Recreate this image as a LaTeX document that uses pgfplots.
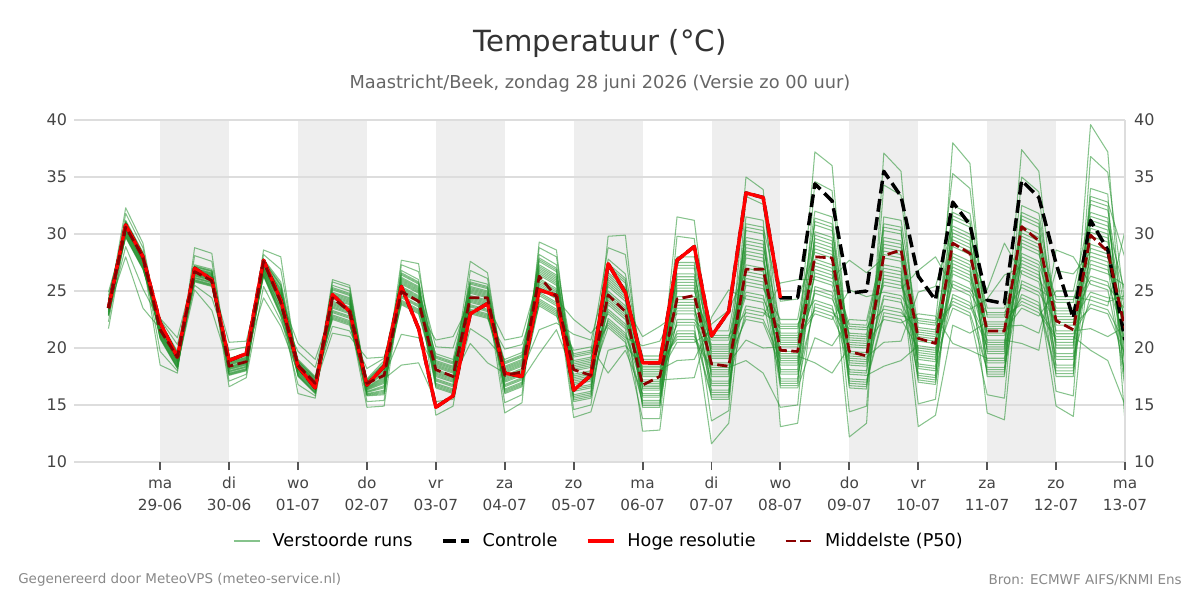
\documentclass[border=0pt]{standalone}
\usepackage{fontspec}
\setmainfont{DejaVu Sans}
\usepackage{pgfplots}
\usepackage{pgfplotstable}
\pgfplotsset{compat=1.18}
\definecolor{ensgreen}{RGB}{34,145,45}
\definecolor{gridgray}{HTML}{DDDDDD}
\definecolor{shade}{HTML}{EEEEEE}
\definecolor{ticklab}{HTML}{444444}
\definecolor{tickc}{HTML}{555555}
\definecolor{titlec}{HTML}{333333}
\definecolor{subc}{HTML}{666666}
\definecolor{footc}{HTML}{888888}
\definecolor{p50c}{HTML}{8B0000}

\pgfplotstableread{
x m1 m2 m3 m4 m5 m6 m7 m8 m9 m10 m11 m12 m13 m14 m15 m16 m17 m18 m19 m20
-0.75 21.7 22.3 22.8 22.9 23.0 23.1 23.2 23.3 23.4 23.5 23.6 23.7 23.8 23.9 24.0 24.1 24.2 24.3 24.6 24.9
-0.5 30.1 30.9 28.9 31.8 30.5 29.8 31.1 30.3 30.7 28.0 32.3 30.0 30.8 29.7 31.2 30.4 29.9 31.0 30.6 30.2
-0.25 27.3 28.1 25.2 28.8 27.7 27.0 28.3 27.5 27.9 23.5 29.2 27.2 28.0 26.9 28.4 27.6 27.1 28.2 27.8 27.4
0 21.8 20.9 22.3 21.4 18.5 22.1 21.1 22.6 20.8 21.7 21.3 22.0 19.7 22.5 21.5 22.2 21.2 21.9 21.0 21.6
0.25 19.2 18.3 19.7 18.8 17.8 19.5 18.5 20.9 18.2 19.1 18.7 19.4 18.0 20.3 18.9 19.6 18.6 19.3 18.4 19.0
0.5 25.8 26.5 26.9 26.1 28.8 26.3 25.1 26.7 27.3 27.0 26.0 26.6 28.1 26.2 25.5 26.8 27.1 26.4 25.9 27.2
0.75 25.4 26.1 26.5 25.7 28.3 25.9 23.3 26.3 26.9 26.6 25.6 26.2 27.6 25.8 24.4 26.4 26.7 26.0 25.5 26.8
1 19.1 16.6 18.2 18.6 17.9 20.5 18.4 17.6 18.8 18.0 18.5 17.1 18.3 18.9 19.8 17.8 18.7 18.1 19.0 17.7
1.25 19.5 17.4 18.6 19.0 18.3 20.6 18.8 18.0 19.2 18.4 18.9 17.7 18.7 19.3 20.1 18.2 19.1 18.5 19.4 18.1
1.5 24.4 25.4 26.3 26.4 26.5 26.6 26.7 26.8 26.9 27.0 27.1 27.2 27.3 27.4 27.5 27.6 27.7 27.8 28.2 28.6
1.75 21.9 22.4 22.8 23.0 23.2 23.4 23.6 23.8 24.0 24.2 24.4 24.6 24.8 25.0 25.2 25.4 25.6 25.8 26.9 28.0
2 17.9 18.7 16.8 19.7 18.3 17.6 18.9 18.1 18.5 16.0 20.4 17.8 18.6 17.5 19.0 18.2 17.7 18.8 18.4 18.0
2.25 16.4 17.2 15.8 18.3 16.8 16.1 17.4 16.6 17.0 15.6 19.0 16.3 17.1 16.0 17.5 16.7 16.2 17.3 16.9 16.5
2.5 24.5 22.7 25.5 23.7 21.3 25.1 23.1 26.0 22.5 24.3 23.5 24.9 21.9 25.8 23.9 25.3 23.3 24.7 22.9 24.1
2.75 24.0 22.2 25.0 23.2 21.0 24.6 22.6 25.5 22.0 23.8 23.0 24.4 21.5 25.3 23.4 24.8 22.8 24.2 22.4 23.6
3 15.8 16.5 16.9 16.1 19.1 16.3 14.8 16.7 17.3 17.0 16.0 16.6 18.2 16.2 15.3 16.8 17.1 16.4 15.9 17.2
3.25 15.9 17.3 18.1 16.5 19.2 16.9 14.9 17.7 18.9 18.3 16.3 17.5 19.1 16.7 15.4 17.9 18.5 17.1 16.1 18.7
3.5 26.8 18.5 25.0 25.8 24.4 27.7 25.4 23.8 26.2 24.6 25.6 21.2 25.2 26.4 27.3 24.2 26.0 24.8 26.6 24.0
3.75 26.0 18.7 24.2 25.0 23.6 27.4 24.6 23.0 25.4 23.8 24.8 20.9 24.4 25.6 26.7 23.4 25.2 24.0 25.8 23.2
4 14.1 15.3 16.5 16.7 16.9 17.1 17.3 17.5 17.7 17.9 18.1 18.3 18.5 18.7 18.9 19.1 19.3 19.5 20.1 20.7
4.25 14.9 15.5 16.0 16.2 16.4 16.6 16.8 17.0 17.2 17.4 17.6 17.8 18.0 18.2 18.4 18.6 18.8 19.0 20.0 21.0
4.5 23.8 25.4 21.7 26.8 24.6 23.2 25.8 24.2 25.0 20.4 27.6 23.6 25.2 23.0 26.0 24.4 23.4 25.6 24.8 24.0
4.75 23.4 25.0 20.7 26.1 24.2 22.8 25.4 23.8 24.6 18.7 26.6 23.2 24.8 22.6 25.6 24.0 23.0 25.2 24.4 23.6
5 18.0 16.2 19.0 17.2 14.3 18.6 16.6 20.7 16.0 17.8 17.0 18.4 15.2 19.9 17.4 18.8 16.8 18.2 16.4 17.6
5.25 18.6 16.8 19.6 17.8 15.2 19.2 17.2 21.0 16.6 18.4 17.6 19.0 15.9 20.3 18.0 19.4 17.4 18.8 17.0 18.2
5.5 23.7 25.8 27.0 24.6 29.3 25.2 19.5 26.4 28.2 27.3 24.3 26.1 28.8 24.9 21.6 26.7 27.6 25.5 24.0 27.9
5.75 22.8 24.9 26.1 23.7 28.6 24.3 21.6 25.5 27.3 26.4 23.4 25.2 28.0 24.0 22.2 25.8 26.7 24.6 23.1 27.0
6 19.8 13.9 17.1 18.3 16.2 22.5 17.7 15.3 18.9 16.5 18.0 14.6 17.4 19.2 21.2 15.9 18.6 16.8 19.5 15.6
6.25 20.1 14.4 17.4 18.6 16.5 21.3 18.0 15.6 19.2 16.8 18.3 15.0 17.7 19.5 20.7 16.2 18.9 17.1 19.8 15.9
6.5 17.8 19.8 21.8 22.2 22.6 23.0 23.4 23.8 24.2 24.6 25.0 25.4 25.8 26.2 26.6 27.0 27.4 27.8 28.8 29.8
6.75 19.8 20.2 20.5 20.9 21.3 21.7 22.1 22.5 22.9 23.3 23.7 24.1 24.5 24.9 25.3 25.7 26.1 26.5 28.2 29.9
7 16.0 18.4 13.8 20.2 17.2 15.1 19.0 16.6 17.8 12.7 21.0 15.7 18.1 14.8 19.3 16.9 15.4 18.7 17.5 16.3
7.25 16.0 18.4 13.8 20.6 17.2 15.1 19.0 16.6 17.8 12.8 21.9 15.7 18.1 14.8 19.3 16.9 15.4 18.7 17.5 16.3
7.5 25.5 21.0 28.0 23.5 17.3 27.0 22.0 31.5 20.5 25.0 23.0 26.5 18.9 29.8 24.0 27.5 22.5 26.0 21.5 24.5
7.75 25.5 21.0 28.0 23.5 17.4 27.0 22.0 31.2 20.5 25.0 23.0 26.5 19.0 29.6 24.0 27.5 22.5 26.0 21.5 24.5
8 15.5 18.3 19.9 16.7 22.7 17.5 11.6 19.1 21.5 20.3 16.3 18.7 22.1 17.1 13.6 19.5 20.7 17.9 15.9 21.1
8.25 15.5 18.3 19.9 16.7 25.1 17.5 13.4 19.1 21.5 20.3 16.3 18.7 23.3 17.1 14.5 19.5 20.7 17.9 15.9 21.1
8.5 31.5 18.9 26.1 28.5 24.3 35.0 27.3 22.5 29.7 24.9 27.9 20.7 26.7 30.3 33.3 23.7 29.1 25.5 30.9 23.1
8.75 31.2 17.8 25.8 28.2 24.0 33.9 27.0 22.2 29.4 24.6 27.6 20.0 26.4 30.0 32.6 23.4 28.8 25.2 30.6 22.8
9 13.1 14.8 16.5 16.9 17.3 17.7 18.1 18.5 18.9 19.3 19.7 20.1 20.5 20.9 21.3 21.7 22.1 22.5 24.1 25.7
9.25 13.4 15.0 16.5 16.9 17.3 17.7 18.1 18.5 18.9 19.3 19.7 20.1 20.5 20.9 21.3 21.7 22.1 22.5 24.3 26.0
9.5 25.4 30.2 20.9 34.6 27.8 23.6 31.4 26.6 29.0 18.7 37.2 24.8 29.6 23.0 32.0 27.2 24.2 30.8 28.4 26.0
9.75 24.9 29.7 20.2 33.8 27.3 23.1 30.9 26.1 28.5 17.8 36.0 24.3 29.1 22.5 31.5 26.7 23.7 30.3 27.9 25.5
10 20.5 16.9 22.5 18.9 12.2 21.7 17.7 27.7 16.5 20.1 18.5 21.3 14.4 25.1 19.3 22.1 18.1 20.9 17.3 19.7
10.25 20.4 16.8 22.4 18.8 13.4 21.6 17.6 26.6 16.4 20.0 18.4 21.2 14.9 24.5 19.2 22.0 18.0 20.8 17.2 19.6
10.5 22.5 26.7 29.1 24.3 37.1 25.5 18.4 27.9 31.5 29.7 23.7 27.3 34.3 24.9 20.5 28.5 30.3 26.1 23.1 30.9
10.75 22.2 26.4 28.8 24.0 35.5 25.2 18.9 27.6 31.2 29.4 23.4 27.0 33.4 24.6 20.6 28.2 30.0 25.8 22.8 30.6
11 23.0 13.1 19.4 21.0 18.2 26.8 20.2 17.0 21.8 18.6 20.6 15.1 19.8 22.2 24.9 17.8 21.4 19.0 22.6 17.4
11.25 22.8 14.1 19.2 20.8 18.0 28.0 20.0 16.8 21.6 18.4 20.4 15.5 19.6 22.0 25.4 17.6 21.2 18.8 22.4 17.2
11.5 20.4 22.0 23.5 24.1 24.7 25.3 25.9 26.5 27.1 27.7 28.3 28.9 29.5 30.1 30.7 31.3 31.9 32.5 35.3 38.0
11.75 19.8 21.3 22.8 23.4 24.0 24.6 25.2 25.8 26.4 27.0 27.6 28.2 28.8 29.4 30.0 30.6 31.2 31.8 34.0 36.2
12 19.1 22.3 15.9 24.3 20.7 17.9 23.1 19.9 21.5 14.3 25.1 18.7 21.9 17.5 23.5 20.3 18.3 22.7 21.1 19.5
12.25 19.1 22.3 15.6 26.4 20.7 17.9 23.1 19.9 21.5 13.7 29.2 18.7 21.9 17.5 23.5 20.3 18.3 22.7 21.1 19.5
12.5 29.5 24.1 32.5 27.1 20.4 31.3 25.3 37.4 23.5 28.9 26.5 30.7 22.0 35.0 27.7 31.9 25.9 30.1 24.7 28.3
12.75 28.8 23.4 31.8 26.4 19.8 30.6 24.6 35.5 22.8 28.2 25.8 30.0 21.3 33.7 27.0 31.2 25.2 29.4 24.0 27.6
13 17.5 21.0 23.0 19.0 28.6 20.0 14.9 22.0 25.0 23.5 18.5 21.5 26.8 19.5 16.2 22.5 24.0 20.5 18.0 24.5
13.25 17.5 21.0 23.0 19.0 28.0 20.0 14.0 22.0 25.0 23.5 18.5 21.5 26.5 19.5 15.8 22.5 24.0 20.5 18.0 24.5
13.5 34.0 19.8 27.7 30.5 25.6 39.6 29.1 23.5 31.9 26.3 29.8 21.7 28.4 32.6 36.8 24.9 31.2 27.0 33.3 24.2
13.75 33.5 18.9 27.2 30.0 25.1 37.2 28.6 23.0 31.4 25.8 29.3 21.0 27.9 32.1 35.4 24.4 30.7 26.5 32.8 23.7
14 13.5 15.0 16.5 17.1 17.7 18.3 18.9 19.5 20.1 20.7 21.3 21.9 22.5 23.1 23.7 24.3 24.9 25.5 27.9 30.3
}\ens

\pgfplotstableread{
x n1 n2 n3 n4 n5 n6 n7 n8 n9 n10
-0.75 23.15 23.75 24.15 22.85 23.85 23.45 22.95 23.95 23.55 23.35
-0.5 30.85 30.25 30.45 29.85 31.05 30.65 30.35 29.75 30.05 30.75
-0.25 28.05 27.45 27.65 27.05 28.25 27.85 27.55 26.95 27.25 27.95
0 20.95 22.15 21.45 21.75 20.85 21.85 21.15 21.55 21.35 21.95
0.25 18.35 19.55 18.85 19.15 18.25 19.25 18.55 18.95 18.75 19.35
0.5 25.85 25.95 26.15 26.35 26.45 26.55 26.75 26.85 26.95 27.15
0.75 25.45 25.55 25.75 25.95 26.05 26.15 26.35 26.45 26.55 26.75
1 18.35 18.75 17.75 18.95 18.15 17.65 18.65 17.95 18.55 18.25
1.25 18.75 19.15 18.15 19.35 18.55 18.05 19.05 18.35 18.95 18.65
1.5 26.65 27.25 27.65 26.35 27.35 26.95 26.45 27.45 27.05 26.85
1.75 23.5 24.7 25.5 22.9 24.9 24.1 23.1 25.1 24.3 23.9
2 18.65 18.05 18.25 17.65 18.85 18.45 18.15 17.55 17.85 18.55
2.25 17.15 16.55 16.75 16.15 17.35 16.95 16.65 16.05 16.35 17.05
2.5 22.8 25.2 23.8 24.4 22.6 24.6 23.2 24.0 23.6 24.8
2.75 22.3 24.7 23.3 23.9 22.1 24.1 22.7 23.5 23.1 24.3
3 15.85 15.95 16.15 16.35 16.45 16.55 16.75 16.85 16.95 17.15
3.25 16.0 16.2 16.6 17.0 17.2 17.4 17.8 18.0 18.2 18.6
3.5 25.3 26.1 24.1 26.5 24.9 23.9 25.9 24.5 25.7 25.1
3.75 24.5 25.3 23.3 25.7 24.1 23.1 25.1 23.7 24.9 24.3
4 17.2 18.4 19.2 16.6 18.6 17.8 16.8 18.8 18.0 17.6
4.25 16.7 17.9 18.7 16.1 18.1 17.3 16.3 18.3 17.5 17.1
4.5 25.3 24.1 24.5 23.3 25.7 24.9 24.3 23.1 23.7 25.1
4.75 24.9 23.7 24.1 22.9 25.3 24.5 23.9 22.7 23.3 24.7
5 16.3 18.7 17.3 17.9 16.1 18.1 16.7 17.5 17.1 18.3
5.25 16.9 19.3 17.9 18.5 16.7 18.7 17.3 18.1 17.7 18.9
5.5 23.85 24.15 24.75 25.35 25.65 25.95 26.55 26.85 27.15 27.75
5.75 22.95 23.25 23.85 24.45 24.75 25.05 25.65 25.95 26.25 26.85
6 17.55 18.75 15.75 19.35 16.95 15.45 18.45 16.35 18.15 17.25
6.25 17.85 19.05 16.05 19.65 17.25 15.75 18.75 16.65 18.45 17.55
6.5 23.2 25.6 27.2 22.0 26.0 24.4 22.4 26.4 24.8 24.0
6.75 21.9 24.3 25.9 20.7 24.7 23.1 21.1 25.1 23.5 22.7
7 18.25 16.45 17.05 15.25 18.85 17.65 16.75 14.95 15.85 17.95
7.25 18.25 16.45 17.05 15.25 18.85 17.65 16.75 14.95 15.85 17.95
7.5 21.25 27.25 23.75 25.25 20.75 25.75 22.25 24.25 23.25 26.25
7.75 21.25 27.25 23.75 25.25 20.75 25.75 22.25 24.25 23.25 26.25
8 15.7 16.1 16.9 17.7 18.1 18.5 19.3 19.7 20.1 20.9
8.25 15.7 16.1 16.9 17.7 18.1 18.5 19.3 19.7 20.1 20.9
8.5 27.0 29.4 23.4 30.6 25.8 22.8 28.8 24.6 28.2 26.4
8.75 26.7 29.1 23.1 30.3 25.5 22.5 28.5 24.3 27.9 26.1
9 17.9 20.3 21.9 16.7 20.7 19.1 17.1 21.1 19.5 18.7
9.25 17.9 20.3 21.9 16.7 20.7 19.1 17.1 21.1 19.5 18.7
9.5 29.9 26.3 27.5 23.9 31.1 28.7 26.9 23.3 25.1 29.3
9.75 29.4 25.8 27.0 23.4 30.6 28.2 26.4 22.8 24.6 28.8
10 17.1 21.9 19.1 20.3 16.7 20.7 17.9 19.5 18.7 21.1
10.25 17.0 21.8 19.0 20.2 16.6 20.6 17.8 19.4 18.6 21.0
10.5 22.8 23.4 24.6 25.8 26.4 27.0 28.2 28.8 29.4 30.6
10.75 22.5 23.1 24.3 25.5 26.1 26.7 27.9 28.5 29.1 30.3
11 20.0 21.6 17.6 22.4 19.2 17.2 21.2 18.4 20.8 19.6
11.25 19.8 21.4 17.4 22.2 19.0 17.0 21.0 18.2 20.6 19.4
11.5 25.6 29.2 31.6 23.8 29.8 27.4 24.4 30.4 28.0 26.8
11.75 24.9 28.5 30.9 23.1 29.1 26.7 23.7 29.7 27.3 26.1
12 22.1 19.7 20.5 18.1 22.9 21.3 20.1 17.7 18.9 21.7
12.25 22.1 19.7 20.5 18.1 22.9 21.3 20.1 17.7 18.9 21.7
12.5 24.4 31.6 27.4 29.2 23.8 29.8 25.6 28.0 26.8 30.4
12.75 23.7 30.9 26.7 28.5 23.1 29.1 24.9 27.3 26.1 29.7
13 17.75 18.25 19.25 20.25 20.75 21.25 22.25 22.75 23.25 24.25
13.25 17.75 18.25 19.25 20.25 20.75 21.25 22.25 22.75 23.25 24.25
13.5 28.75 31.55 24.55 32.95 27.35 23.85 30.85 25.95 30.15 28.05
13.75 28.25 31.05 24.05 32.45 26.85 23.35 30.35 25.45 29.65 27.55
14 18.6 22.2 24.6 16.8 22.8 20.4 17.4 23.4 21.0 19.8
}\ensb

\pgfplotstableread{
x y
-0.75 23.5
-0.5 30.8
-0.25 28.0
0 22.2
0.25 19.2
0.5 27.0
0.75 26.0
1 18.9
1.25 19.5
1.5 27.7
1.75 24.2
2 18.4
2.25 16.5
2.5 24.7
2.75 23.2
3 16.75
3.25 18.4
3.5 25.4
3.75 21.7
4 14.8
4.25 15.8
4.5 23.0
4.75 23.9
5 17.8
5.25 17.5
5.5 25.1
5.75 24.6
6 16.3
6.25 17.6
6.5 27.4
6.75 24.85
7 18.7
7.25 18.7
7.5 27.7
7.75 28.9
8 21.05
8.25 23.2
8.5 33.6
8.75 33.2
9 24.4
}\hres

\pgfplotstableread{
x y
-0.75 23.5
-0.5 30.8
-0.25 28.0
0 22.2
0.25 19.2
0.5 27.0
0.75 26.0
1 18.9
1.25 19.5
1.5 27.7
1.75 24.2
2 18.4
2.25 16.5
2.5 24.7
2.75 23.2
3 16.75
3.25 18.4
3.5 25.4
3.75 21.7
4 14.8
4.25 15.8
4.5 23.0
4.75 23.9
5 17.8
5.25 17.5
5.5 25.1
5.75 24.6
6 16.3
6.25 17.6
6.5 27.4
6.75 24.85
7 18.7
7.25 18.7
7.5 27.7
7.75 28.9
8 21.05
8.25 23.2
8.5 33.6
8.75 33.2
9 24.4
9.25 24.4
9.5 34.4
9.75 32.9
10 24.8
10.25 25.0
10.5 35.5
10.75 33.3
11 26.3
11.25 24.2
11.5 32.8
11.75 30.8
12 24.2
12.25 23.9
12.5 34.7
12.75 33.2
13 27.4
13.25 22.6
13.5 31.2
13.75 28.6
14 20.7
}\ctrl

\pgfplotstableread{
x y
-0.75 23.5
-0.5 30.6
-0.25 28.0
0 21.6
0.25 19.2
0.5 26.7
0.75 25.9
1 18.4
1.25 18.8
1.5 27.6
1.75 24.0
2 18.5
2.25 16.9
2.5 24.4
2.75 23.2
3 16.9
3.25 17.6
3.5 24.95
3.75 24.1
4 18.1
4.25 17.5
4.5 24.4
4.75 24.4
5 17.6
5.25 17.9
5.5 26.3
5.75 24.5
6 18.1
6.25 17.6
6.5 24.65
6.75 23.2
7 16.75
7.25 17.5
7.5 24.3
7.75 24.6
8 18.6
8.25 18.4
8.5 26.9
8.75 26.9
9 19.8
9.25 19.7
9.5 28.0
9.75 27.9
10 19.7
10.25 19.3
10.5 28.1
10.75 28.6
11 20.85
11.25 20.4
11.5 29.2
11.75 28.3
12 21.5
12.25 21.5
12.5 30.65
12.75 29.4
13 22.4
13.25 21.6
13.5 29.9
13.75 28.45
14 21.7
}\pfifty

\begin{document}
\begin{tikzpicture}
\path (0pt,0pt) rectangle (864pt,432pt);
\node[font=\fontsize{21}{25}\selectfont, text=titlec] at (432pt,400.7pt) {Temperatuur (°C)};
\node[font=\fontsize{12.8}{15}\selectfont, text=subc] at (432pt,371.5pt) {Maastricht/Beek, zondag 28 juni 2026 (Versie zo 00 uur)};
\node[font=\fontsize{9.7}{12}\selectfont, text=footc, anchor=west, inner sep=0pt] at (12.96pt,14.4pt) {Gegenereerd door MeteoVPS (meteo-service.nl)};
\node[font=\fontsize{9.7}{12}\selectfont, text=footc, anchor=east, inner sep=0pt] at (851.04pt,14.4pt) {Bron: ECMWF AIFS/KNMI Ens};

\begin{axis}[
  at={(53.28pt,99.36pt)}, anchor=south west,
  width=756.72pt, height=246.24pt, scale only axis,
  set layers,
  xmin=-1.25, xmax=14, ymin=10, ymax=40,
  xtick={0,...,14},
  xtick pos=bottom,
  xticklabels={{\strut ma\\29-06},{\strut di\\30-06},{\strut wo\\01-07},{\strut do\\02-07},{\strut vr\\03-07},{\strut za\\04-07},{\strut zo\\05-07},{\strut ma\\06-07},{\strut di\\07-07},{\strut wo\\08-07},{\strut do\\09-07},{\strut vr\\10-07},{\strut za\\11-07},{\strut zo\\12-07},{\strut ma\\13-07}},
  xticklabel style={align=center, font=\fontsize{11}{16}\selectfont, text=ticklab, yshift=1.6pt},
  ytick={10,15,...,40},
  ytick pos=left,
  yticklabel style={font=\fontsize{11.5}{13}\selectfont, text=ticklab, xshift=4.3pt},
  /pgf/number format/assume math mode=true,
  ymajorgrids, grid style={draw=gridgray, line width=0.8pt},
  axis line style={draw=none},
  tick align=outside,
  major tick length=5.8pt,
  xtick style={draw=tickc, line width=1.4pt},
  ytick style={draw=none},
  no markers,
  every axis plot/.append style={line join=round},
  legend columns=4,
  legend cell align=left,
  legend image code/.code={\draw[#1] (0pt,0pt) -- (19pt,0pt);},
  legend style={at={(0.5,-0.231)}, anchor=center, draw=none, fill=none,
    font=\fontsize{12.7}{15}\selectfont,
    /tikz/every odd column/.append style={column sep=6.5pt},
    /tikz/every even column/.append style={column sep=18.5pt}},
]
\addplot[on layer=axis background, fill=shade, draw=none, forget plot] coordinates {(0,10) (1,10) (1,40) (0,40)} -- cycle;
\addplot[on layer=axis background, fill=shade, draw=none, forget plot] coordinates {(2,10) (3,10) (3,40) (2,40)} -- cycle;
\addplot[on layer=axis background, fill=shade, draw=none, forget plot] coordinates {(4,10) (5,10) (5,40) (4,40)} -- cycle;
\addplot[on layer=axis background, fill=shade, draw=none, forget plot] coordinates {(6,10) (7,10) (7,40) (6,40)} -- cycle;
\addplot[on layer=axis background, fill=shade, draw=none, forget plot] coordinates {(8,10) (9,10) (9,40) (8,40)} -- cycle;
\addplot[on layer=axis background, fill=shade, draw=none, forget plot] coordinates {(10,10) (11,10) (11,40) (10,40)} -- cycle;
\addplot[on layer=axis background, fill=shade, draw=none, forget plot] coordinates {(12,10) (13,10) (13,40) (12,40)} -- cycle;
\addplot[draw=ensgreen, opacity=0.55, line width=0.75pt] table[x=x,y=m1]{\ens};
\addlegendentry{Verstoorde runs}
\pgfplotsinvokeforeach{2,...,20}{\addplot[draw=ensgreen, opacity=0.55, line width=0.75pt, forget plot] table[x=x,y=m#1]{\ens};}
\pgfplotsinvokeforeach{1,...,10}{\addplot[draw=ensgreen, opacity=0.55, line width=0.75pt, forget plot] table[x=x,y=n#1]{\ensb};}
\addplot[black, line width=2.5pt, dash pattern=on 9.25pt off 4pt] table[x=x,y=y]{\ctrl};
\addlegendentry{Controle}
\addplot[red, line width=2.5pt] table[x=x,y=y]{\hres};
\addlegendentry{Hoge resolutie}
\addplot[p50c, line width=2pt, dash pattern=on 7.4pt off 3.2pt] table[x=x,y=y]{\pfifty};
\addlegendentry{Middelste (P50)}
\end{axis}

\begin{axis}[
  at={(53.28pt,99.36pt)}, anchor=south west,
  width=756.72pt, height=246.24pt, scale only axis,
  xmin=-1.25, xmax=14, ymin=10, ymax=40,
  hide x axis,
  axis y line*=right,
  axis line style={draw=gridgray, line width=0.8pt},
  ytick={10,15,...,40},
  ytick style={draw=none},
  yticklabel pos=right,
  yticklabel style={font=\fontsize{11.5}{13}\selectfont, text=ticklab, xshift=3pt},
  /pgf/number format/assume math mode=true,
]
\addplot[draw=none, forget plot] coordinates {(0,10) (14,40)};
\end{axis}
\end{tikzpicture}
\end{document}
